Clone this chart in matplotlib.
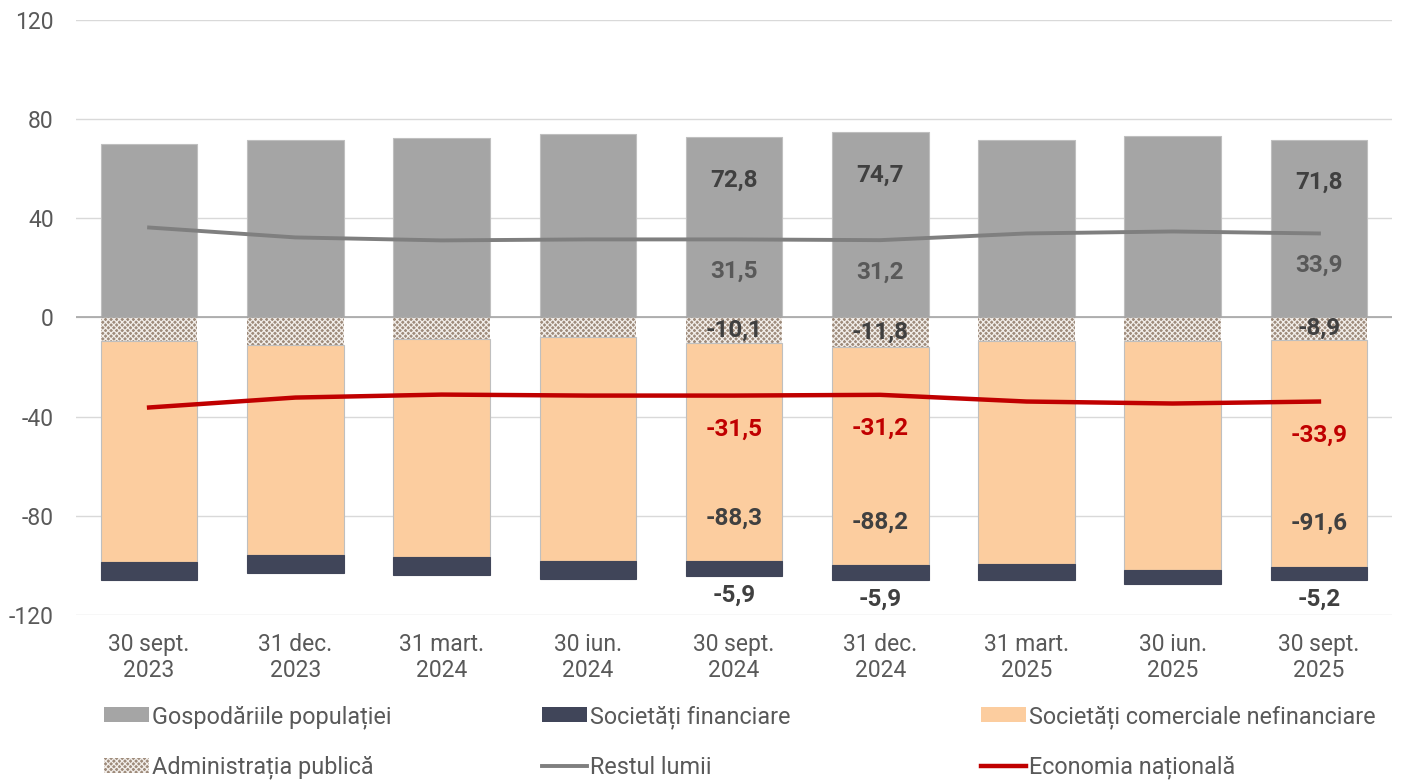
import numpy as np
import matplotlib
matplotlib.use('Agg')
import matplotlib.pyplot as plt
from matplotlib.lines import Line2D
from matplotlib.patches import Patch

plt.rcParams['font.family'] = ['Roboto', 'DejaVu Sans']
plt.rcParams['hatch.linewidth'] = 0.9
plt.rcParams['axes.unicode_minus'] = False

dates = ['30 sept.\n2023', '31 dec.\n2023', '31 mart.\n2024', '30 iun.\n2024',
         '30 sept.\n2024', '31 dec.\n2024', '31 mart.\n2025', '30 iun.\n2025',
         '30 sept.\n2025']
gospodarii = [70.0, 71.4, 72.6, 74.2, 72.8, 74.7, 71.8, 73.4, 71.8]
admin = [-9.3, -10.9, -8.5, -7.7, -10.1, -11.8, -9.3, -9.3, -8.9]
nefinanciare = [-89.5, -85.1, -88.3, -90.7, -88.3, -88.2, -90.3, -92.7, -91.6]
financiare = [-6.9, -6.9, -6.9, -6.9, -5.9, -5.9, -6.1, -5.7, -5.2]
restul_lumii = [36.3, 32.3, 31.1, 31.5, 31.5, 31.2, 33.9, 34.7, 33.9]
economia = [-36.3, -32.3, -31.1, -31.5, -31.5, -31.2, -33.9, -34.7, -33.9]
labelled = [4, 5, 8]

c_gosp = '#A5A5A5'
c_fin = '#404559'
c_nef = '#FCCD9F'
c_adm = '#9E8B7B'
c_row = '#7F7F7F'
c_eco = '#C00000'
txt = '#595959'
dark = '#404040'

fig = plt.figure(figsize=(14.02, 7.82), dpi=100)
ax = fig.add_axes([0.0542, 0.2136, 0.9387, 0.7608])

x = np.arange(len(dates))
w = 0.66
gosp = np.array(gospodarii)
adm = np.array(admin)
nef = np.array(nefinanciare)
fin = np.array(financiare)

ax.bar(x, gosp, w, color=c_gosp, edgecolor='#BFBFBF', linewidth=0.8, zorder=2)
ax.bar(x, adm, w, color=c_adm, edgecolor='#F2EEEA', hatch='xxxxxx', linewidth=0, zorder=2)
ax.bar(x, nef, w, bottom=adm, color=c_nef, edgecolor='#BFBFBF', linewidth=0.8, zorder=2)
ax.bar(x, fin, w, bottom=adm + nef, color=c_fin, edgecolor=c_fin, linewidth=0.8, zorder=2)
ax.plot(x, restul_lumii, color=c_row, lw=2.8, zorder=3)
ax.plot(x, economia, color=c_eco, lw=3.2, zorder=3)

def fmt(v):
    return ('%.1f' % v).replace('.', ',')

for i in labelled:
    kw = dict(ha='center', va='center', fontsize=17.5, fontweight='bold',
              textcoords='offset points', zorder=5)
    ax.annotate(fmt(gosp[i]), (x[i], gosp[i]), xytext=(0, -31), color=dark, **kw)
    ax.annotate(fmt(restul_lumii[i]), (x[i], restul_lumii[i]), xytext=(0, -23), color=txt, **kw)
    ax.annotate(fmt(adm[i]), (x[i], adm[i] / 2), xytext=(0, 0), color=dark, **kw)
    ax.annotate(fmt(economia[i]), (x[i], economia[i]), xytext=(0, -24), color=c_eco, **kw)
    ax.annotate(fmt(nef[i]), (x[i], adm[i] + nef[i]), xytext=(0, 31), color=dark, **kw)
    ax.annotate(fmt(fin[i]), (x[i], adm[i] + nef[i] + fin[i]), xytext=(0, -14), color=dark, **kw)

ax.set_xlim(-0.5, len(dates) - 0.5)
ax.set_ylim(-120, 120)
ax.set_yticks(np.arange(-120, 121, 40))
ax.set_xticks(x)
ax.set_xticklabels(dates, linespacing=1.15)
ax.tick_params(axis='both', length=0, labelsize=16.5, labelcolor=txt)
ax.tick_params(axis='y', pad=16)
ax.tick_params(axis='x', pad=13)
ax.grid(axis='y', color='#D9D9D9', lw=1, zorder=0)
ax.axhline(0, color='#A6A6A6', lw=1.2, zorder=2.5)
for s in ax.spines.values():
    s.set_visible(False)

cols = [
    [Patch(facecolor=c_gosp, label='Gospodăriile populației'),
     Patch(facecolor=c_adm, edgecolor='#F2EEEA', hatch='xxxxxx', lw=0, label='Administrația publică')],
    [Patch(facecolor=c_fin, label='Societăți financiare'),
     Line2D([], [], color=c_row, lw=2.8, label='Restul lumii')],
    [Patch(facecolor=c_nef, label='Societăți comerciale nefinanciare'),
     Line2D([], [], color=c_eco, lw=3.2, label='Economia națională')],
]
xs = [108, 546, 985]
for xpos, hs in zip(xs, cols):
    fig.legend(handles=hs, loc='upper left', bbox_to_anchor=(xpos / 1402 - 0.003, 1 - 705 / 782),
               frameon=False, fontsize=16.8, labelcolor=txt, handlelength=1.95, handleheight=0.6,
               handletextpad=0.1, labelspacing=1.15, borderpad=0, borderaxespad=0)

fig.savefig('out.png', dpi=100)
